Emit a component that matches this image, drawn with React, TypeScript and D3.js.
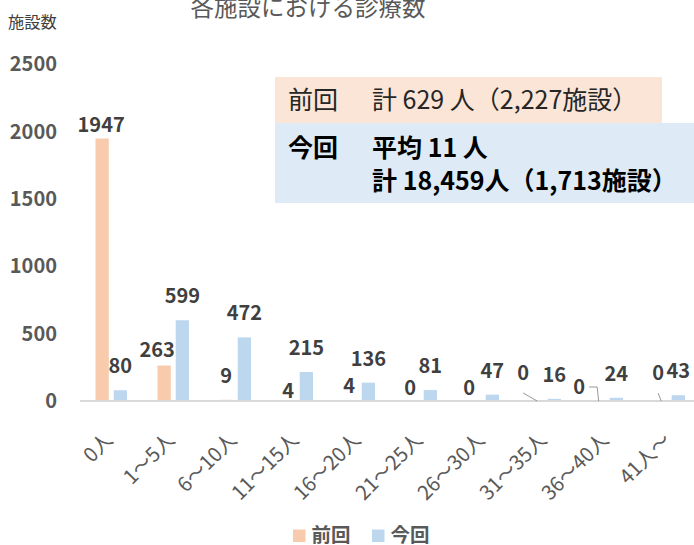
import React, { useEffect, useRef } from 'react';
import * as d3 from 'd3';

const categories = ['0人', '1～5人', '6～10人', '11～15人', '16～20人', '21～25人', '26～30人', '31～35人', '36～40人', '41人～'];
const prevValues = [1947, 263, 9, 4, 4, 0, 0, 0, 0, 0];
const currValues = [80, 599, 472, 215, 136, 81, 47, 16, 24, 43];
const seriesNames = ['前回', '今回'];
const yTicks = [0, 500, 1000, 1500, 2000, 2500];

// manual label nudges for 前回 labels (dx, dy, leader line)
const prevLabelNudge = [
  [-1, 10, 0], [-7, 8.5, 0], [0, 0, 0], [0, 14.5, 0], [-1, 9.5, 0],
  [-2, 11, 0], [-5, 11, 0], [-13, -4, 1], [-19, 10, 2], [-2, -4, 1],
];

const FONT = '"Noto Sans CJK JP", "Noto Sans", sans-serif';

export default function App() {
  const ref = useRef<SVGSVGElement>(null);

  useEffect(() => {
    const svg = d3.select(ref.current);
    svg.selectAll('*').remove();

    const x0 = d3.scaleBand().domain(categories).range([80, 700]);
    const x1 = d3.scaleBand().domain(seriesNames).range([15.5, 47]).paddingInner(0.27);
    const y = d3.scaleLinear().domain([0, 2500]).range([401, 64]);
    const color = d3.scaleOrdinal<string>().domain(seriesNames).range(['#F8CBAD', '#BDD7EE']);

    // タイトル
    svg.append('text')
      .attr('x', 308).attr('y', 16)
      .attr('text-anchor', 'middle')
      .attr('font-size', 23.5).attr('fill', '#595959')
      .text('各施設における診療数');

    svg.append('text')
      .attr('x', 8).attr('y', 28)
      .attr('font-size', 16.3).attr('fill', '#404040')
      .text('施設数');

    // y軸
    svg.append('g').selectAll('text').data(yTicks).enter().append('text')
      .attr('x', 57).attr('y', d => y(d)).attr('dy', '0.36em')
      .attr('text-anchor', 'end')
      .attr('font-size', 20).attr('font-weight', 'bold').attr('fill', '#595959')
      .text(d => d);

    // 棒
    const rows = categories.map((c, i) => ({ c, i, vals: [prevValues[i], currValues[i]] }));
    const groups = svg.append('g').selectAll('g').data(rows).enter().append('g')
      .attr('transform', d => `translate(${x0(d.c)},0)`);
    groups.selectAll('rect')
      .data(d => d.vals.map((v, k) => ({ key: seriesNames[k], v })))
      .enter().append('rect')
      .attr('x', d => x1(d.key)!)
      .attr('width', x1.bandwidth())
      .attr('y', d => y(d.v))
      .attr('height', d => y(0) - y(d.v))
      .attr('fill', d => color(d.key));

    // 軸線
    svg.append('line')
      .attr('x1', 80).attr('x2', 694).attr('y1', y(0)).attr('y2', y(0))
      .attr('stroke', '#D9D9D9').attr('stroke-width', 2);

    // 値ラベル 今回
    svg.append('g').selectAll('text').data(rows).enter().append('text')
      .attr('x', d => x0(d.c)! + x1('今回')! + x1.bandwidth() / 2)
      .attr('y', d => y(d.vals[1]) - 17)
      .attr('text-anchor', 'middle')
      .attr('font-size', 20).attr('font-weight', 'bold').attr('fill', '#404040')
      .text(d => d.vals[1]);

    // 値ラベル 前回
    const prevX = (d: any) => x0(d.c)! + x1('前回')! + x1.bandwidth() / 2;
    svg.append('g').selectAll('text').data(rows).enter().append('text')
      .attr('x', d => prevX(d) + prevLabelNudge[d.i][0])
      .attr('y', d => y(d.vals[0]) - 17 + prevLabelNudge[d.i][1])
      .attr('text-anchor', 'middle')
      .attr('font-size', 20).attr('font-weight', 'bold').attr('fill', '#404040')
      .text(d => d.vals[0]);

    // 引き出し線
    const leaders = rows.filter(d => prevLabelNudge[d.i][2] > 0);
    svg.append('g').selectAll('path').data(leaders).enter().append('path')
      .attr('fill', 'none').attr('stroke', '#7F7F7F').attr('stroke-width', 0.8)
      .attr('d', d => {
        const bx = prevX(d), by = y(d.vals[0]);
        const lx = bx + prevLabelNudge[d.i][0], ly = by - 17 + prevLabelNudge[d.i][1];
        if (prevLabelNudge[d.i][2] === 2) {
          return `M${lx + 10},${ly - 7} L${bx - 1},${ly - 7} L${bx + 0.5},${by}`;
        }
        return `M${lx},${ly + 13} L${bx + 1},${by}`;
      });

    // x軸ラベル
    svg.append('g').selectAll('text').data(categories).enter().append('text')
      .attr('transform', d => `translate(${x0(d)! + x0.bandwidth() / 2 - 2},${436.5}) rotate(-45)`)
      .attr('text-anchor', 'end').attr('dy', '0.35em')
      .attr('font-size', 20).attr('fill', '#595959')
      .text(d => d);

    // テキストボックス
    svg.append('rect').attr('x', 275).attr('y', 77).attr('width', 387).attr('height', 46).attr('fill', '#FBE5D6');
    svg.append('rect').attr('x', 275).attr('y', 123).attr('width', 419).attr('height', 80).attr('fill', '#DEEBF7');
    svg.append('text').attr('x', 288).attr('y', 109).attr('font-size', 25).attr('fill', '#262626').text('前回');
    svg.append('text').attr('x', 372).attr('y', 109).attr('font-size', 25).attr('fill', '#262626').text('計 629 人（2,227施設）');
    svg.append('text').attr('x', 288).attr('y', 157).attr('font-size', 25).attr('font-weight', 'bold').attr('fill', '#000').text('今回');
    svg.append('text').attr('x', 372).attr('y', 157).attr('font-size', 25).attr('font-weight', 'bold').attr('fill', '#000').text('平均 11 人');
    svg.append('text').attr('x', 372).attr('y', 190).attr('font-size', 25).attr('font-weight', 'bold').attr('fill', '#000').text('計 18,459人（1,713施設）');

    // 凡例
    const legendX = [293, 372];
    const legend = svg.append('g').selectAll('g').data(seriesNames).enter().append('g')
      .attr('transform', (d, i) => `translate(${legendX[i]},529.5)`);
    legend.append('rect').attr('width', 12.5).attr('height', 12.5).attr('fill', d => color(d));
    legend.append('text').attr('x', 18.5).attr('y', 12)
      .attr('font-size', 19.5).attr('font-weight', 'bold').attr('fill', '#595959')
      .text(d => d);
  }, []);

  return (
    <div>
      <style>{`body{margin:0}`}</style>
      <svg ref={ref} width={694} height={545} style={{ display: 'block', background: '#fff', fontFamily: FONT }} />
    </div>
  );
}
